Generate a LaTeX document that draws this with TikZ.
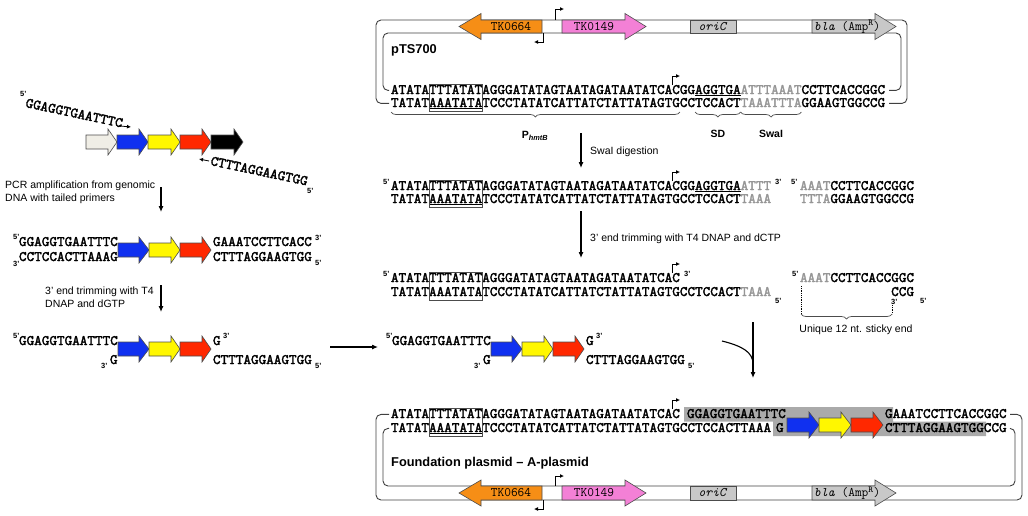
\documentclass[tikz,border=0pt]{standalone}
\usepackage{fontspec}
\setmainfont{Liberation Sans}
\newfontfamily\seqfam{lmmono10-regular.otf}[FakeBold=2.2]
\usetikzlibrary{arrows.meta,decorations.pathreplacing}
\definecolor{orangeG}{RGB}{246,142,22}
\definecolor{pinkG}{RGB}{243,128,214}
\definecolor{greyG}{RGB}{200,200,200}
\definecolor{ivoryG}{RGB}{240,238,230}
\definecolor{blueG}{RGB}{16,48,240}
\definecolor{yellowG}{RGB}{255,247,0}
\definecolor{redG}{RGB}{255,40,0}
\definecolor{seqgray}{RGB}{150,150,150}
\definecolor{shadeC}{RGB}{170,170,170}
\newcommand\seqF{\seqfam\fontsize{14.48}{16}\selectfont}
\newcommand\geneF{\ttfamily\fontsize{13}{14}\selectfont}
\newcommand\labF{\fontsize{10.5}{12.6}\selectfont}
\newcommand\primeF{\bfseries\fontsize{7.5}{8}\selectfont}
\newcommand\titleF{\bfseries\fontsize{12.8}{14}\selectfont}
\newcommand\grey[1]{\textcolor{seqgray}{#1}}
\def\bh{7}\def\hh{13}
\newcommand\rgene[5]{\draw[genebox,fill=#5] (#1,#4-\bh) -- (#2,#4-\bh) -- (#2,#4-\hh) -- (#3,#4) -- (#2,#4+\hh) -- (#2,#4+\bh) -- (#1,#4+\bh) -- cycle;}
\newcommand\lgene[5]{\draw[genebox,fill=#5] (#1,#4) -- (#2,#4-\hh) -- (#2,#4-\bh) -- (#3,#4-\bh) -- (#3,#4+\bh) -- (#2,#4+\bh) -- (#2,#4+\hh) -- cycle;}
\begin{document}
\begin{tikzpicture}[x=1pt,y=-1pt,
  seq/.style={anchor=base west,inner sep=0pt,outer sep=0pt,font=\seqF},
  prm/.style={anchor=base west,inner sep=0pt,font=\primeF},
  lbl/.style={anchor=base west,inner sep=0pt,font=\labF},
  strand/.style={line width=0.9pt,draw=black!75,rounded corners=5pt},
  genebox/.style={draw=black!70,line width=0.6pt},
  proc/.style={line width=1.1pt,-{Latex[length=6pt,width=5pt]}},
  prom/.style={line width=0.8pt,-{Latex[length=4pt,width=4pt]}},
  tbox/.style={draw=black!70,line width=0.6pt},
  glab/.style={font=\geneF,inner sep=0pt},
  brc/.style={decorate,decoration={brace,mirror,amplitude=5pt},line width=0.7pt,draw=black!70},
]
\useasboundingbox (0,0) rectangle (1028,515);

% ================= top plasmid pTS700
\draw[strand] (389,90.4) -- (383,90.4) -- (383,33) -- (901,33) -- (901,90.4) -- (889,90.4);
\draw[strand] (389,103.4) -- (376,103.4) -- (376,20) -- (907,20) -- (907,103.4) -- (889,103.4);
\def\bh{6.5}
\lgene{459}{481}{542}{26.5}{orangeG}
\node[glab] (tkA1) at (511,26.5) {TK0664};
\rgene{562}{625}{646}{26.5}{pinkG}
\node[glab] (tkB1) at (594,26.5) {TK0149};
\node[genebox,fill=greyG,minimum width=46pt,minimum height=13pt,inner sep=0pt,font=\geneF] (ori1) at (713,26.5) {\textit{oriC}};
\rgene{812}{875}{896}{26.5}{greyG}
\node[glab,anchor=west] (bla1) at (814,26.5) {\textit{bla} (Amp\textsuperscript{R})};
\draw[prom] (555,20) -- (555,9) -- (564,9);
\draw[prom] (543,33) -- (543,42) -- (534,42);
\node[anchor=base west,inner sep=0pt,font=\titleF] (pts) at (391,53) {pTS700};

\node[seq] (s1t) at (391,94) {ATATATTTATATAGGGATATAGTAATAGATAATATCACGG\underline{AGGTGA}\grey{ATTTAAAT}CCTTCACCGGC};
\node[seq] (s1b) at (391,107) {TATAT\underline{AAATATA}TCCCTATATCATTATCTATTATAGTGCCTCCACT\grey{TAAATTTA}GGAAGTGGCCG};
\draw[tbox] (429,84) rectangle (482.2,111);
\draw[prom] (672,85) -- (672,76) -- (680,76);
\draw[brc] (391,112) -- (679.8,112);
\draw[brc] (695,112) -- (740.6,112);
\draw[brc] (740.6,112) -- (801.4,112);
\node[font=\bfseries\fontsize{10.5}{12}\selectfont] (phmtb) at (535,136) {P\textsubscript{\textit{hmtB}}};
\node[font=\bfseries\fontsize{10.5}{12}\selectfont] (sd) at (718,134) {SD};
\node[font=\bfseries\fontsize{10.5}{12}\selectfont] (swa) at (771,134) {SwaI};

% ================= SwaI digestion
\coordinate (d1s) at (581,133); \coordinate (d1e) at (581,168);
\draw[proc] (d1s) -- (d1e);
\node[lbl] (d1l) at (590,154) {SwaI digestion};

\node[prm] (p2a) at (383,184) {5'};
\node[seq] (s2t) at (391,190) {ATATATTTATATAGGGATATAGTAATAGATAATATCACGG\underline{AGGTGA}\grey{ATTT}};
\node[prm] (p2b) at (775,184) {3'};
\node[prm] (p2c) at (791,184) {5'};
\node[seq] (s2tr) at (800,190) {\grey{AAAT}CCTTCACCGGC};
\node[seq] (s2b) at (391,203) {TATAT\underline{AAATATA}TCCCTATATCATTATCTATTATAGTGCCTCCACT\grey{TAAA}};
\node[seq] (s2br) at (800,203) {\grey{TTTA}GGAAGTGGCCG};
\draw[tbox] (429,180) rectangle (482.2,207);
\draw[prom] (672,181) -- (672,172) -- (680,172);

% ================= trimming with dCTP
\coordinate (d2s) at (581,211); \coordinate (d2e) at (581,258);
\draw[proc] (d2s) -- (d2e);
\node[lbl] (d2l) at (590,241) {3' end trimming with T4 DNAP and dCTP};

\node[prm] (p3a) at (383,276) {5'};
\node[seq] (s3t) at (391,282) {ATATATTTATATAGGGATATAGTAATAGATAATATCAC};
\node[prm] (p3b) at (684,276) {3'};
\node[seq] (s3b) at (391,296) {TATATAAATATATCCCTATATCATTATCTATTATAGTGCCTCCACT\grey{TAAA}};
\node[prm] (p3c) at (775,303) {5'};
\draw[tbox] (429,272) rectangle (482.2,300);
\draw[prom] (672,273) -- (672,264) -- (680,264);
\node[prm] (p3d) at (792,276) {5'};
\node[seq] (s3tr) at (800,282) {\grey{AAAT}CCTTCACCGGC};
\node[seq] (s3br) at (891.2,296) {CCG};
\node[prm] (p3e) at (891,304) {3'};
\node[prm] (p3f) at (920,303) {5'};
\coordinate (dl1a) at (801,286); \coordinate (dl1b) at (801,314);
\coordinate (dl2a) at (892,305); \coordinate (dl2b) at (892,314);
\draw[densely dotted,line width=0.8pt] (dl1a) -- (dl1b);
\draw[densely dotted,line width=0.8pt] (dl2a) -- (dl2b);
\draw[brc] (dl1b) -- (dl2b);
\node[font=\labF] (uniq) at (856,330) {Unique 12 nt. sticky end};

% ================= left: PCR
\node[prm] (p5a) at (20,96) {5'};
\node[seq,rotate=-12] (fp) at (25,107) {GGAGGTGAATTTC};
\draw[prom] (120,126) -- (131,127);
\def\bh{7}
\rgene{86}{108}{117}{142}{ivoryG}
\rgene{117}{139}{148}{142}{blueG}
\rgene{148}{171}{180}{142}{yellowG}
\rgene{180}{202}{211}{142}{redG}
\rgene{211}{234}{243}{142}{black}
\draw[prom] (209,161) -- (199,159);
\node[seq,rotate=-12] (rp) at (210,165) {CTTTAGGAAGTGG};
\node[prm] (p5b) at (307,193) {5'};

\node[lbl] (l1a) at (5,188) {PCR amplification from genomic};
\node[lbl] (l1b) at (5,201) {DNA with tailed primers};
\coordinate (a1s) at (161,187); \coordinate (a1e) at (161,212);
\draw[proc] (a1s) -- (a1e);

\node[prm] (p6a) at (13,239) {5'};
\node[seq] (s6t) at (19,246) {GGAGGTGAATTTC};
\node[prm] (p6b) at (13,266) {3'};
\node[seq] (s6b) at (19,261) {CCTCCACTTAAAG};
\rgene{118}{139}{149}{250}{blueG}
\rgene{149}{171}{180}{250}{yellowG}
\rgene{180}{202}{211}{250}{redG}
\node[seq] (s6tr) at (213,246) {GAAATCCTTCACC};
\node[prm] (p6c) at (315,240) {3'};
\node[seq] (s6br) at (213,261) {CTTTAGGAAGTGG};
\node[prm] (p6d) at (315,265) {5'};

\node[lbl] (l2a) at (45,294) {3' end trimming with T4};
\node[lbl] (l2b) at (45,307) {DNAP and dGTP};
\coordinate (a2s) at (161,285); \coordinate (a2e) at (161,312);
\draw[proc] (a2s) -- (a2e);

\node[prm] (p7a) at (13,338) {5'};
\node[seq] (s7t) at (19,345) {GGAGGTGAATTTC};
\rgene{118}{139}{149}{349}{blueG}
\rgene{149}{171}{180}{349}{yellowG}
\rgene{180}{202}{211}{349}{redG}
\node[seq] (s7g) at (213,345) {G};
\node[prm] (p7b) at (223,338) {3'};
\node[prm] (p7c) at (101,368) {3'};
\node[seq] (s7bg) at (110,364) {G};
\node[seq] (s7b) at (213,364) {CTTTAGGAAGTGG};
\node[prm] (p7d) at (315,368) {5'};

\coordinate (a3s) at (330,347); \coordinate (a3e) at (378,347);
\draw[proc] (a3s) -- (a3e);

\node[prm] (p8a) at (386,338) {5'};
\node[seq] (s8t) at (392,345) {GGAGGTGAATTTC};
\rgene{491}{512}{522}{349}{blueG}
\rgene{522}{544}{553}{349}{yellowG}
\rgene{553}{575}{584}{349}{redG}
\node[seq] (s8g) at (586,345) {G};
\node[prm] (p8b) at (596,338) {3'};
\node[prm] (p8c) at (474,368) {3'};
\node[seq] (s8bg) at (483,364) {G};
\node[seq] (s8b) at (586,364) {CTTTAGGAAGTGG};
\node[prm] (p8d) at (688,368) {5'};

% ================= ligation arrows
\coordinate (a4s) at (753,322); \coordinate (a4e) at (753,378);
\coordinate (c4s) at (722,341); \coordinate (c4e) at (753,364);
\draw[proc] (a4s) -- (a4e);
\draw[line width=1.1pt] (c4s) .. controls (742,346) and (753,352) .. (c4e);

% ================= final plasmid
\fill[shadeC] (684,407) -- (893,407) -- (893,421.5) -- (986,421.5) -- (986,436) -- (773,436) -- (773,421.5) -- (684,421.5) -- cycle;
\node[seq] (s4t) at (391,418) {ATATATTTATATAGGGATATAGTAATAGATAATATCAC};
\node[seq] (s4ins) at (687,418) {GGAGGTGAATTTC};
\node[seq] (s4tr) at (885,418) {GAAATCCTTCACCGGC};
\node[seq] (s4b) at (391,432) {TATAT\underline{AAATATA}TCCCTATATCATTATCTATTATAGTGCCTCCACTTAAA};
\node[seq] (s4bg) at (776,432) {G};
\node[seq] (s4br) at (885,432) {CTTTAGGAAGTGGCCG};
\rgene{787}{809}{819}{425}{blueG}
\rgene{819}{841}{851}{425}{yellowG}
\rgene{851}{873}{883}{425}{redG}
\draw[tbox] (429,408) rectangle (482.2,436);
\draw[prom] (672,409) -- (672,400) -- (680,400);

\draw[strand] (389,414.4) -- (376,414.4) -- (376,500) -- (1022,500) -- (1022,414.4) -- (1010,414.4);
\draw[strand] (389,428.4) -- (383,428.4) -- (383,486) -- (1015,486) -- (1015,428.4) -- (1010,428.4);
\node[anchor=base west,inner sep=0pt,font=\titleF] (fnd) at (391,466) {Foundation plasmid -- A-plasmid};
\lgene{459}{481}{542}{493}{orangeG}
\node[glab] (tkA2) at (511,493) {TK0664};
\rgene{562}{625}{646}{493}{pinkG}
\node[glab] (tkB2) at (594,493) {TK0149};
\node[genebox,fill=greyG,minimum width=46pt,minimum height=14pt,inner sep=0pt,font=\geneF] (ori2) at (713,493) {\textit{oriC}};
\rgene{812}{875}{896}{493}{greyG}
\node[glab,anchor=west] (bla2) at (814,493) {\textit{bla} (Amp\textsuperscript{R})};
\draw[prom] (555,486) -- (555,476) -- (564,476);
\draw[prom] (543,500) -- (543,509) -- (534,509);
\end{tikzpicture}
\end{document}
